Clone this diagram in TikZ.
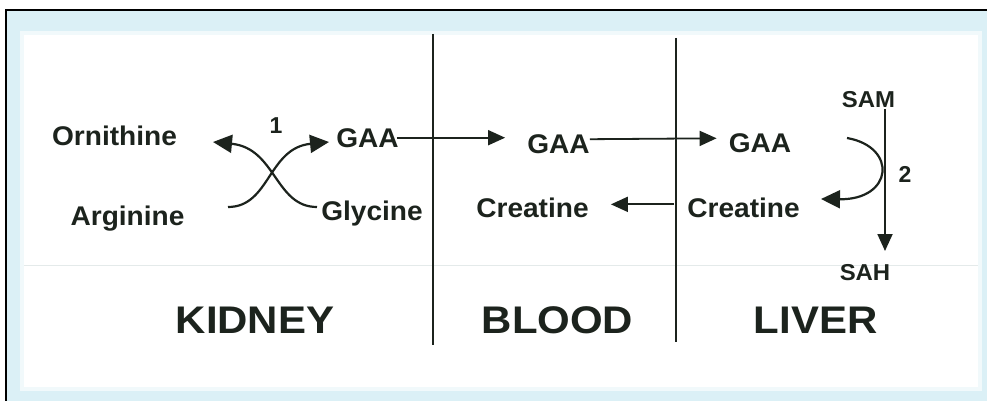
\documentclass[tikz,border=0pt]{standalone}
\usepackage{fontspec}
\setmainfont{Liberation Sans}
\usepackage{graphicx}
\usetikzlibrary{arrows.meta}
\definecolor{frameblue}{HTML}{DBF0F6}
\definecolor{ink}{HTML}{1C231D}
\definecolor{faint}{HTML}{E4EAEA}
\newcommand{\lbl}[1]{\scalebox{1.04}[1]{#1}}
\newcommand{\ttl}[1]{\scalebox{1.09}[1]{#1}}
\tikzset{
  lab/.style={inner sep=0pt, anchor=base, text=ink, font=\fontsize{27}{31}\selectfont\bfseries},
  small/.style={inner sep=0pt, anchor=base, text=ink, font=\fontsize{23}{27}\selectfont\bfseries},
  big/.style={inner sep=0pt, anchor=base, text=ink, font=\fontsize{38.5}{44}\selectfont\bfseries},
  arr/.style={draw=ink, line width=1.8pt, -{Triangle[length=17pt,width=15pt]}},
  curvearr/.style={draw=ink, line width=2.2pt, -{Triangle[length=19pt,width=18pt]}},
  divider/.style={draw=ink, line width=2.5pt},
}
\begin{document}
\begin{tikzpicture}[x=1pt,y=-1pt]
\useasboundingbox (0,0) rectangle (987,401);
\fill[white] (0,0) rectangle (987,401);
\fill[frameblue] (6,10) rectangle (987,401);
\draw[black, line width=2.2pt] (6,401) -- (6,10) -- (987,10);
\fill[white!60!frameblue] (20,31) rectangle (982,391);
\fill[white] (24,35) rectangle (978,387);
\draw[faint, line width=1pt] (24,265) -- (978,265);

% dividers
\coordinate (d1t) at (433,34);
\coordinate (d1b) at (433,345);
\coordinate (d2t) at (676,38);
\coordinate (d2b) at (676,342);
\draw[divider] (d1t) -- (d1b);
\draw[divider] (d2t) -- (d2b);

% kidney
\node[lab] (orn) at (114.5,145) {\lbl{Ornithine}};
\node[lab] (arg) at (127.5,225) {\lbl{Arginine}};
\node[lab] (gaak) at (367.5,147) {\lbl{GAA}};
\node[lab] (gly) at (372,220) {\lbl{Glycine}};
\node[small] (one) at (276,133) {1};
\coordinate (argend) at (228,207);
\coordinate (glyend) at (317,207);
\coordinate (orntip) at (213,142);
\coordinate (gaatip) at (329,142);
\draw[curvearr] (argend) .. controls (270,207) and (268,148) .. (gaatip);
\draw[curvearr] (glyend) .. controls (275,207) and (276,148) .. (orntip);

% blood
\node[lab] (gaab) at (558.5,153) {\lbl{GAA}};
\node[lab] (crb) at (532.5,217) {\lbl{Creatine}};

% liver
\node[lab] (gaal) at (760,152) {\lbl{GAA}};
\node[lab] (crl) at (743.5,217) {\lbl{Creatine}};
\node[small] (sam) at (868.5,107) {\lbl{SAM}};
\node[small] (sah) at (865,280) {\lbl{SAH}};
\node[small] (two) at (905,182) {2};

% transport arrows
\draw[arr, shorten >=20pt] ([xshift=-2pt]gaak.east) -- ([xshift=-2pt]gaak.east -| gaab.west);
\draw[arr, shorten >=12pt] ([yshift=4.5pt]gaab.east) -- ([yshift=4.5pt]gaal.west);
\draw[arr] ([xshift=-13pt,yshift=3pt]crl.west) -- ([xshift=22pt,yshift=3pt]crb.east);

% methylation
\coordinate (samfoot) at (885,109);
\coordinate (sahtip) at (885,251);
\draw[arr] (samfoot) -- (sahtip);
\coordinate (gaalend) at (847,138);
\coordinate (crltip) at (821,199);
\draw[curvearr] (gaalend) .. controls (898,147) and (893,200) .. (crltip);

% compartments
\node[big] (kidney) at (255,333) {\ttl{KIDNEY}};
\node[big] (blood) at (557.5,333) {\ttl{BLOOD}};
\node[big] (liver) at (815.5,333) {\ttl{LIVER}};
\end{tikzpicture}
\end{document}
